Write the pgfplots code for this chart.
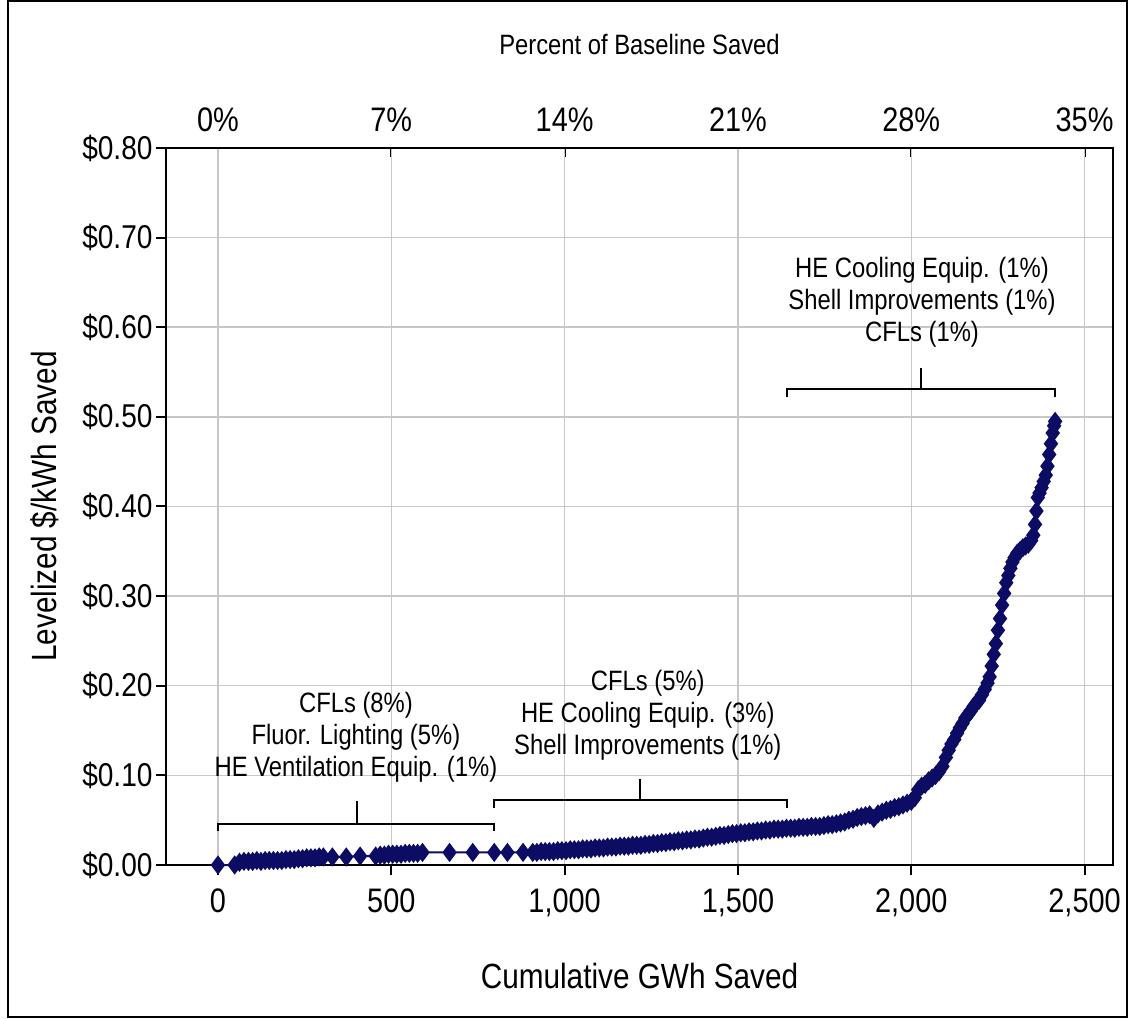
\documentclass[border=0pt]{standalone}
\usepackage{pgfplots}
\pgfplotsset{compat=1.18}
\usepackage{pgfplotstable}
\usepackage{fontspec}
\setmainfont{Liberation Sans}[FakeStretch=0.85]
\definecolor{navy}{RGB}{12,12,100}
\definecolor{gridgray}{RGB}{200,200,200}
\pgfplotstableread{
x y
0 0.000
48 0.000
62 0.003
75 0.004
88 0.004
100 0.004
112 0.005
124 0.004
136 0.005
148 0.005
160 0.005
172 0.005
184 0.005
196 0.006
208 0.006
220 0.006
232 0.007
244 0.007
256 0.008
268 0.008
280 0.008
292 0.009
304 0.009
330 0.009
370 0.009
410 0.010
455 0.010
468 0.011
480 0.011
492 0.012
504 0.012
516 0.012
528 0.012
540 0.013
552 0.013
564 0.013
576 0.013
590 0.014
668 0.014
735 0.014
797 0.014
835 0.014
880 0.014
908 0.014
920 0.014
932 0.015
944 0.015
956 0.015
968 0.015
980 0.016
992 0.016
1004 0.016
1016 0.017
1028 0.017
1040 0.017
1052 0.018
1064 0.018
1076 0.018
1088 0.019
1100 0.019
1112 0.019
1124 0.020
1136 0.020
1148 0.020
1160 0.021
1172 0.021
1184 0.021
1196 0.022
1208 0.022
1220 0.022
1232 0.023
1244 0.023
1256 0.024
1268 0.024
1280 0.025
1292 0.025
1304 0.026
1316 0.026
1328 0.027
1340 0.027
1352 0.028
1364 0.028
1376 0.029
1388 0.029
1400 0.030
1412 0.031
1424 0.031
1436 0.032
1448 0.033
1460 0.033
1472 0.034
1484 0.035
1496 0.035
1508 0.036
1520 0.036
1532 0.037
1544 0.037
1556 0.038
1568 0.038
1580 0.039
1592 0.039
1604 0.040
1616 0.040
1628 0.040
1640 0.041
1652 0.041
1664 0.041
1676 0.042
1688 0.042
1700 0.042
1712 0.043
1724 0.043
1736 0.043
1748 0.044
1760 0.045
1772 0.045
1784 0.046
1796 0.047
1808 0.048
1820 0.050
1832 0.051
1844 0.053
1856 0.054
1868 0.055
1880 0.056
1892 0.052
1904 0.057
1916 0.059
1928 0.061
1940 0.062
1952 0.064
1964 0.065
1976 0.067
1988 0.069
2000 0.071
2010 0.075
2020 0.084
2030 0.088
2040 0.090
2050 0.094
2060 0.097
2070 0.100
2080 0.104
2090 0.110
2100 0.120
2108 0.128
2116 0.135
2124 0.140
2132 0.147
2140 0.153
2148 0.158
2156 0.164
2164 0.168
2172 0.172
2180 0.177
2188 0.181
2196 0.184
2204 0.190
2212 0.196
2220 0.203
2226 0.210
2232 0.222
2238 0.235
2244 0.247
2250 0.262
2256 0.275
2262 0.290
2268 0.303
2274 0.315
2280 0.323
2286 0.331
2292 0.338
2298 0.343
2306 0.348
2314 0.351
2322 0.354
2330 0.356
2338 0.358
2346 0.362
2352 0.368
2357 0.380
2361 0.395
2365 0.410
2370 0.415
2376 0.421
2382 0.428
2388 0.435
2393 0.445
2398 0.458
2403 0.470
2408 0.482
2412 0.490
2415 0.495
}\curvedata
\begin{document}
\begin{tikzpicture}[x=1pt,y=1pt]
% top axis (percent)
\begin{axis}[
  at={(0,0)}, anchor=south west,
  scale only axis, width=947pt, height=717pt,
  xmin=-150, xmax=2582, ymin=0, ymax=0.8,
  hide y axis,
  axis line style={line width=2pt},
  xtick={0,500,1000,1500,2000,2500},
  xticklabels={0\%,7\%,14\%,21\%,28\%,35\%},
  xtick pos=right, xticklabel pos=right,
  tick align=inside, major tick length=9pt,
  tick style={line width=2pt, black},
  xticklabel style={font=\fontsize{34}{38}\selectfont, yshift=13pt},
  xlabel={Percent of Baseline Saved},
  xlabel style={font=\fontsize{28}{32}\selectfont, at={(axis description cs:0.5,1.1437)}, anchor=center},
]
\addplot[draw=none] coordinates {(0,0)};
\end{axis}
% main axis
\begin{axis}[
  at={(0,0)}, anchor=south west,
  scale only axis, width=947pt, height=717pt,
  xmin=-150, xmax=2582, ymin=0, ymax=0.8,
  clip=false,
  axis line style={line width=2pt},
  xtick={0,500,1000,1500,2000,2500},
  xticklabels={0,500,{1,000},{1,500},{2,000},{2,500}},
  ytick={0,0.1,0.2,0.3,0.4,0.5,0.6,0.7,0.8},
  yticklabels={\$0.00,\$0.10,\$0.20,\$0.30,\$0.40,\$0.50,\$0.60,\$0.70,\$0.80},
  xtick pos=left, ytick pos=left,
  tick align=outside, major tick length=10pt,
  tick style={line width=2pt, black},
  grid=major,
  major grid style={gridgray, line width=1.5pt},
  xticklabel style={font=\fontsize{34}{38}\selectfont, yshift=-10pt},
  yticklabel style={font=\fontsize{33}{36}\selectfont},
  xlabel={Cumulative GWh Saved},
  ylabel={Levelized \$/kWh Saved},
  xlabel style={font=\fontsize{35}{40}\selectfont, at={(axis description cs:0.5,-0.1548)}, anchor=center},
  ylabel style={font=\fontsize{35}{40}\selectfont, at={(axis description cs:-0.1278,0.5)}, anchor=center},
]
\addplot[navy, line width=2pt, mark=diamond*, mark size=8pt, mark options={solid, fill=navy}] table[x=x,y=y] {\curvedata};
% brackets
\draw[line width=2pt] (axis cs:0,0.038) -- (axis cs:0,0.0458) -- (axis cs:797,0.0458) -- (axis cs:797,0.038);
\draw[line width=2pt] (axis cs:400,0.0458) -- (axis cs:400,0.0715);
\draw[line width=2pt] (axis cs:797,0.0637) -- (axis cs:797,0.0726) -- (axis cs:1641,0.0726) -- (axis cs:1641,0.0637);
\draw[line width=2pt] (axis cs:1217,0.0726) -- (axis cs:1217,0.096);
\draw[line width=2pt] (axis cs:1641,0.522) -- (axis cs:1641,0.531) -- (axis cs:2414,0.531) -- (axis cs:2414,0.522);
\draw[line width=2pt] (axis cs:2028,0.531) -- (axis cs:2028,0.555);
\node[align=center, font=\fontsize{28}{32}\selectfont] at (axis cs:398,0.142) {CFLs (8\%)\\Fluor. Lighting (5\%)\\HE Ventilation Equip. (1\%)};
\node[align=center, font=\fontsize{28}{32}\selectfont] at (axis cs:1240,0.1676) {CFLs (5\%)\\HE Cooling Equip. (3\%)\\Shell Improvements (1\%)};
\node[align=center, font=\fontsize{28}{32}\selectfont] at (axis cs:2031,0.628) {HE Cooling Equip. (1\%)\\Shell Improvements (1\%)\\CFLs (1\%)};
\end{axis}
\draw[line width=1.5pt] (-158,-152) rectangle (961,864);
\pgfresetboundingbox
\path[use as bounding box] (-166,-154) rectangle (963,865);
\end{tikzpicture}
\end{document}
